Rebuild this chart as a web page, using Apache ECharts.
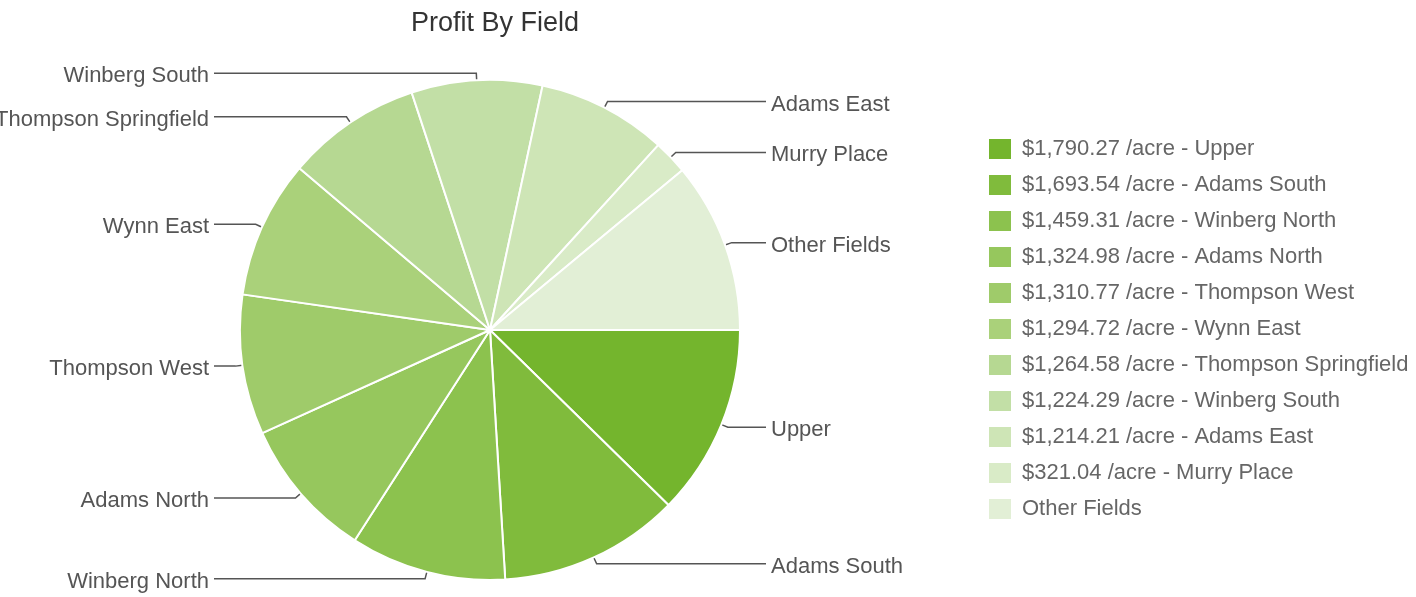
<!DOCTYPE html>
<html>
<head>
<meta charset="utf-8">
<script src="https://cdn.jsdelivr.net/npm/echarts@6/dist/echarts.min.js"></script>
<style>
html,body{margin:0;padding:0;background:#fff;}
#chart{width:1416px;height:597px;}
</style>
</head>
<body>
<div id="chart"></div>
<script>
const fields = ["Upper","Adams South","Winberg North","Adams North","Thompson West","Wynn East","Thompson Springfield","Winberg South","Adams East","Murry Place","Other Fields"];
const profits = [1790.27,1693.54,1459.31,1324.98,1310.77,1294.72,1264.58,1224.29,1214.21,321.04,1600];
const legendLabels = ["$1,790.27 /acre - Upper","$1,693.54 /acre - Adams South","$1,459.31 /acre - Winberg North","$1,324.98 /acre - Adams North","$1,310.77 /acre - Thompson West","$1,294.72 /acre - Wynn East","$1,264.58 /acre - Thompson Springfield","$1,224.29 /acre - Winberg South","$1,214.21 /acre - Adams East","$321.04 /acre - Murry Place","Other Fields"];
const colors = ["#74b52d","#80bb3c","#8cc24e","#96c75d","#9fcb6a","#aad17a","#b6d892","#c2dfa6","#cee5b6","#d9ebc7","#e2efd6"];

const CX = 490, CY = 330, R = 250;
const LINE_REACH = 276;   // horizontal reach of label lines from the centre
const LABEL_GAP = 5;

const chart = echarts.init(document.getElementById('chart'));
const font = '"Liberation Sans", Arial, Helvetica, sans-serif';
chart.setOption({
  animation: false,
  color: colors,
  title: {
    text: 'Profit By Field',
    left: CX, top: 5, textAlign: 'center',
    textStyle: {fontFamily: font, fontSize: 27, fontWeight: 'normal', color: '#333'}
  },
  legend: {
    orient: 'vertical',
    left: 982, top: 132,
    itemWidth: 24, itemHeight: 22, itemGap: 12,
    icon: 'rect',
    data: fields,
    formatter: function (name) { return legendLabels[fields.indexOf(name)]; },
    textStyle: {fontFamily: font, fontSize: 22, lineHeight: 22, color: '#666', padding: [0,0,0,5]}
  },
  series: [{
    type: 'pie',
    center: [CX, CY],
    radius: R,
    startAngle: 0,
    clockwise: true,
    avoidLabelOverlap: true,
    data: fields.map((f, i) => ({name: f, value: profits[i]})),
    itemStyle: {borderColor: '#fff', borderWidth: 2},
    label: {
      show: true,
      formatter: '{b}',
      fontFamily: font, fontSize: 22, color: '#555',
      width: 400, overflow: 'none',
      alignTo: 'none',
      distanceToLabelLine: LABEL_GAP
    },
    labelLine: {
      show: true, length: 7, length2: 20,
      lineStyle: {color: '#555', width: 1.5}
    },
    labelLayout: function (params) {
      const pts = params.labelLinePoints;
      if (!pts) return {};
      const left = pts[2][0] < CX;
      const endX = left ? CX - LINE_REACH : CX + LINE_REACH;
      return {
        x: left ? endX - LABEL_GAP : endX + LABEL_GAP,
        dy: 3,
        align: left ? 'right' : 'left',
        labelLinePoints: [pts[0], pts[1], [endX, pts[1][1]]]
      };
    },
    emphasis: {disabled: true}
  }]
});
</script>
</body>
</html>
